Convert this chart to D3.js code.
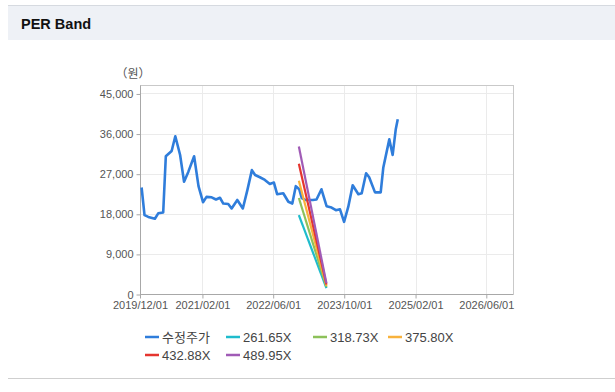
<!DOCTYPE html>
<html>
<head>
<meta charset="utf-8"/>
<title>PER Band</title>
<script src="https://cdn.jsdelivr.net/npm/d3@7"></script>
<style>
    body, html {margin:0;padding:0;background:#fff;overflow:hidden;}
    svg text {font-family:"Liberation Sans","Noto Sans CJK KR",Arial,sans-serif;}
</style>
</head>
<body>
<svg id="chart" width="615" height="392"></svg>
<script>
// 수정주가 (adjusted price)
var priceDates = ["2019-12-12","2020-01-01","2020-01-27","2020-03-12","2020-04-04","2020-05-08","2020-05-26",
    "2020-07-05","2020-07-30","2020-09-01","2020-09-28","2020-10-27","2020-12-06","2021-01-05","2021-02-05",
    "2021-03-01","2021-04-05","2021-05-05","2021-06-01","2021-06-24","2021-07-28","2021-08-20","2021-09-28",
    "2021-11-05","2021-12-06","2022-01-06","2022-01-28","2022-03-02","2022-04-05","2022-05-09","2022-06-06",
    "2022-06-28","2022-08-09","2022-09-13","2022-10-10","2022-11-03","2022-11-27","2022-12-14","2023-01-06",
    "2023-02-28","2023-03-25","2023-04-28","2023-06-02","2023-07-06","2023-08-05","2023-09-02","2023-09-30",
    "2023-10-29","2023-11-28","2024-01-06","2024-01-29","2024-02-28","2024-03-20","2024-04-29","2024-06-07",
    "2024-06-25","2024-08-05","2024-08-28","2024-09-18","2024-10-02"];
var priceValues = [23900,17700,17300,16900,18100,18300,30900,
    32100,35400,31200,25200,27400,30900,24200,20600,
    21800,21700,21200,21600,20300,20200,19200,21100,
    19200,23300,27800,26700,26200,25600,24700,25000,
    22400,22600,20700,20300,24200,23500,21500,21100,
    21100,21200,23500,19700,19400,18800,19000,16200,
    19600,24400,22400,22600,27100,26200,22800,22800,
    28400,34700,31200,36900,39200];

// PER band lines
var bandNames = ["261.65X","318.73X","375.80X","432.88X","489.95X"];
var bandColors = ["#1fbccc","#8dc15a","#f8b23c","#e5352f","#a05bb6"];
var bandDates = ["2022-11-24","2023-06-01"];
var band1 = [17700,1300];
var band2 = [21550,1560];
var band3 = [25400,1840];
var band4 = [29250,2120];
var band5 = [33100,2400];
var bandValues = [band1,band2,band3,band4,band5];

var xTicks = ["2019-12-01","2021-02-01","2022-06-01","2023-10-01","2025-02-01","2026-06-01"];
var yTicks = [0,9000,18000,27000,36000,45000];

var parse = d3.timeParse("%Y-%m-%d");
var svg = d3.select("#chart");

// card header
svg.append("rect").attr("x",8).attr("y",5).attr("width",607).attr("height",35).attr("fill","#eef1f6");
svg.append("line").attr("x1",8).attr("x2",615).attr("y1",5.5).attr("y2",5.5).attr("stroke","#d6dae0");
svg.append("line").attr("x1",8).attr("x2",615).attr("y1",378.5).attr("y2",378.5).attr("stroke","#cfcfcf");
svg.append("text").attr("x",21).attr("y",28.5).attr("font-size",14.5).attr("font-weight","bold")
    .attr("fill","#111").text("PER Band");

var L = 140, R = 513, T = 85, B = 294;
var x = d3.scaleTime().domain([parse("2019-12-01"), parse("2026-12-01")]).range([L, R]);
var y = d3.scaleLinear().domain([0, 46900]).range([B, T]);

// grid
var g = svg.append("g");
g.selectAll("line.hg").data(yTicks).enter().append("line").attr("class","hg")
    .attr("x1",L).attr("x2",R).attr("y1",function(d){return Math.round(y(d))+0.5;})
    .attr("y2",function(d){return Math.round(y(d))+0.5;}).attr("stroke","#ebebeb");
g.selectAll("line.vg").data(xTicks).enter().append("line").attr("class","vg")
    .attr("y1",T).attr("y2",B).attr("x1",function(d){return Math.round(x(parse(d)))+0.5;})
    .attr("x2",function(d){return Math.round(x(parse(d)))+0.5;}).attr("stroke","#ebebeb");
svg.append("rect").attr("x",L+0.5).attr("y",T+0.5).attr("width",R-L).attr("height",B-T)
    .attr("fill","none").attr("stroke","#c9c9c9");

// axes
var yAxis = svg.append("g").attr("transform","translate("+(L+0.5)+",0.5)")
    .call(d3.axisLeft(y).tickValues(yTicks).tickFormat(d3.format(",")).tickSize(4).tickPadding(3));
var xAxis = svg.append("g").attr("transform","translate(0,"+(B+0.5)+")")
    .call(d3.axisBottom(x).tickValues(xTicks.map(parse)).tickFormat(d3.timeFormat("%Y/%m/%d")).tickSize(4).tickPadding(3));
[yAxis, xAxis].forEach(function(a){
    a.select(".domain").attr("stroke","#a8a8a8");
    a.selectAll(".tick line").attr("stroke","#a8a8a8");
    a.selectAll("text").attr("font-size",11).attr("fill","#555").style("font-family","Liberation Sans, Arial, sans-serif");
});
xAxis.select(".domain").attr("d","M"+L+",0H"+R);
yAxis.select(".domain").attr("d","M0,"+T+"V"+B);

svg.append("text").attr("x",133).attr("y",78).attr("text-anchor","middle").attr("font-size",12)
    .attr("fill","#555").style("font-family","Noto Sans CJK KR, sans-serif").text("（원）");

// lines
var line = d3.line().x(function(d){return x(d[0]);}).y(function(d){return y(d[1]);});
var pricePts = priceDates.map(function(d,i){return [parse(d), priceValues[i]];});
svg.append("path").datum(pricePts).attr("d",line).attr("fill","none")
    .attr("stroke","#2f7ddb").attr("stroke-width",2.6).attr("stroke-linejoin","round");

bandValues.forEach(function(vals,k){
    var pts = bandDates.map(function(d,i){return [parse(d), vals[i]];});
    svg.append("path").datum(pts).attr("d",line).attr("fill","none")
        .attr("stroke",bandColors[k]).attr("stroke-width",2.2);
});

// legend
var legNames = ["수정주가"].concat(bandNames);
var legColors = ["#2f7ddb"].concat(bandColors);
var legX = [145,226,313,388];
var leg = svg.append("g");
legNames.forEach(function(n,i){
    var lx = legX[i % 4], ly = 337 + Math.floor(i/4)*18;
    leg.append("line").attr("x1",lx).attr("x2",lx+14).attr("y1",ly).attr("y2",ly)
        .attr("stroke",legColors[i]).attr("stroke-width",2.5);
    leg.append("text").attr("x",lx+17).attr("y",ly+4.5).attr("font-size",13).attr("fill","#444").text(n);
});
</script>
</body>
</html>
